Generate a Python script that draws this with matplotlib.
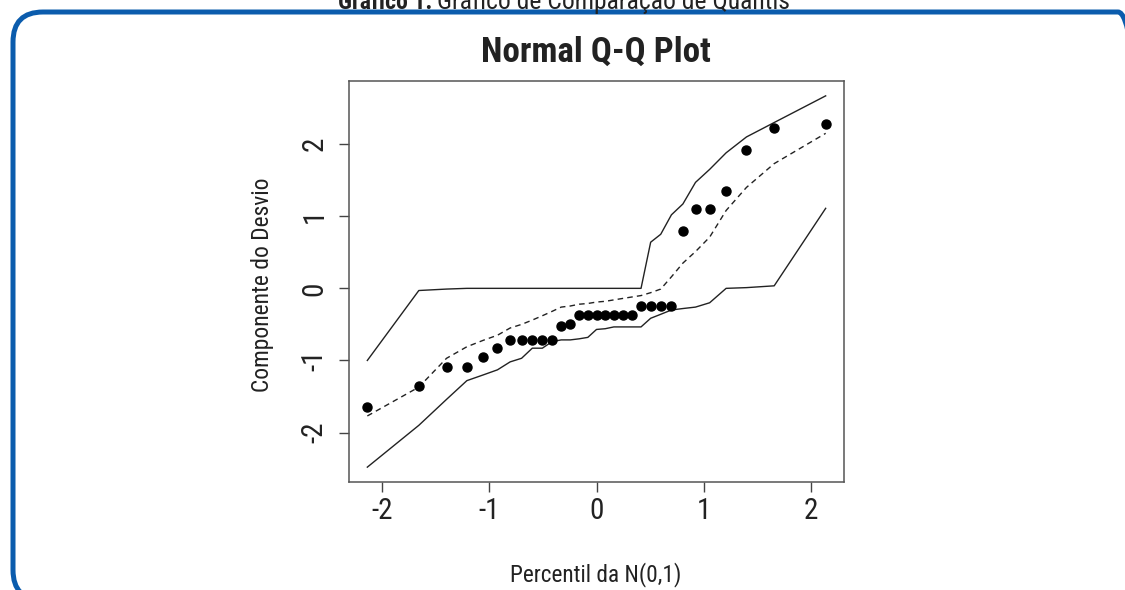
import matplotlib
matplotlib.use("Agg")
import matplotlib.pyplot as plt
from matplotlib import font_manager
from matplotlib.patches import FancyBboxPatch
from matplotlib.transforms import IdentityTransform

# procura uma fonte estreita (o original usa Helvetica Condensed)
entradas = font_manager.fontManager.ttflist
nomes = {f.name for f in entradas}
fonte, largura = None, "normal"
for cand in ["Liberation Sans Narrow", "Roboto Condensed", "Open Sans Condensed",
             "DejaVu Sans Condensed"]:
    if cand in nomes:
        fonte = cand
        break
if fonte is None:
    for f in entradas:
        if f.name in ("Roboto", "Open Sans", "DejaVu Sans", "Noto Sans") and \
                "condensed" in str(f.stretch):
            fonte, largura = f.name, "condensed"
            break
if fonte is None:
    fonte = "Liberation Sans"
plt.rcParams['font.family'] = [fonte, 'DejaVu Sans']
plt.rcParams['font.stretch'] = largura
plt.rcParams['axes.unicode_minus'] = False

# quantis teoricos da N(0,1) - 31 observacoes
teoricos = [-2.141, -1.660, -1.401, -1.211, -1.057, -0.925, -0.807, -0.700,
            -0.600, -0.506, -0.416, -0.330, -0.245, -0.162, -0.081, 0.0,
            0.081, 0.162, 0.245, 0.330, 0.416, 0.506, 0.600, 0.700,
            0.807, 0.925, 1.057, 1.211, 1.401, 1.660, 2.141]

# componente do desvio ordenado
desvio = [-1.64, -1.35, -1.09, -1.09, -0.95, -0.83, -0.715, -0.715, -0.715,
          -0.715, -0.715, -0.52, -0.49, -0.365, -0.365, -0.365, -0.365,
          -0.365, -0.365, -0.365, -0.245, -0.245, -0.245, -0.245,
          0.80, 1.10, 1.10, 1.35, 1.92, 2.23, 2.28]

# envelope simulado
env_sup = [-1.0, -0.03, -0.01, 0, 0, 0, 0, 0, 0, 0, 0, 0, 0, 0, 0, 0, 0, 0,
           0, 0, 0, 0.64, 0.75, 1.02, 1.17, 1.47, 1.65, 1.88, 2.10, 2.30, 2.67]
mediana = [-1.77, -1.37, -0.97, -0.81, -0.72, -0.65, -0.55, -0.50, -0.44,
           -0.38, -0.32, -0.26, -0.245, -0.22, -0.21, -0.19, -0.18, -0.16,
           -0.14, -0.12, -0.10, -0.06, -0.01, 0.16, 0.35, 0.51, 0.71, 1.08,
           1.40, 1.73, 2.15]
env_inf = [-2.48, -1.90, -1.54, -1.28, -1.20, -1.13, -1.02, -0.97, -0.83,
           -0.83, -0.74, -0.715, -0.715, -0.70, -0.68, -0.57, -0.56, -0.535,
           -0.535, -0.535, -0.535, -0.415, -0.36, -0.30, -0.28, -0.26, -0.20,
           0.0, 0.01, 0.035, 1.11]

ticks = [-2, -1, 0, 1, 2]

W, H = 1125, 590
fig = plt.figure(figsize=(W / 100, H / 100), dpi=100)

# moldura azul arredondada
moldura = FancyBboxPatch((13, -10), 1135, 588, boxstyle="round,pad=0,rounding_size=30",
                         transform=IdentityTransform(), fill=False,
                         edgecolor="#0b5cad", linewidth=3.6)
fig.patches.append(moldura)

leg1 = fig.text(432 / W, 1 - 9 / H, "Gráfico 1.", ha="right", va="baseline",
                fontsize=17, fontweight="bold", color="#222222")
leg2 = fig.text(437 / W, 1 - 9 / H, "Gráfico de Comparação de Quantis", ha="left",
                va="baseline", fontsize=17, color="#222222")

ax = fig.add_axes([349 / W, (H - 482) / H, 495 / W, 401 / H])

ax.plot(teoricos, env_sup, color="#222222", lw=1.0)
ax.plot(teoricos, env_inf, color="#222222", lw=1.0)
ax.plot(teoricos, mediana, color="#222222", lw=1.0, linestyle=(0, (4, 3)))
ax.plot(teoricos, desvio, "o", color="black", ms=6.5)

# limites ao estilo do R (4% de folga)
xr = max(teoricos) - min(teoricos)
ax.set_xlim(min(teoricos) - 0.04 * xr, max(teoricos) + 0.04 * xr)
todos = desvio + env_sup + env_inf + mediana
yr = max(todos) - min(todos)
ax.set_ylim(min(todos) - 0.04 * yr, max(todos) + 0.04 * yr)

ax.set_xticks(ticks)
ax.set_xticklabels([str(t) for t in ticks])
ax.set_yticks(ticks)
ax.set_yticklabels([str(t) for t in ticks], rotation=90, va="center")
ax.tick_params(axis="both", length=7.5, width=1.0, color="#444444",
               labelsize=21, labelcolor="#222222")
ax.tick_params(axis="x", pad=3)
ax.tick_params(axis="y", pad=7)
for s in ax.spines.values():
    s.set_color("#555555")
    s.set_linewidth(1.1)

titulo = fig.text(596 / W, 1 - 52 / H, "Normal Q-Q Plot", ha="center", va="center",
                  fontsize=26, fontweight="bold", color="#222222")
xlab = fig.text(596 / W, 1 - 575 / H, "Percentil da N(0,1)", ha="center", va="center",
                fontsize=18, color="#222222")
ylab = fig.text(262 / W, 1 - 285 / H, "Componente do Desvio", ha="center", va="center",
                rotation=90, fontsize=18, color="#222222")

# ajusta os tamanhos para a largura do original (px)
fig.canvas.draw()
r = fig.canvas.get_renderer()
for t, alvo, vertical in [(titulo, 230, False), (xlab, 171, False),
                          (ylab, 215, True), (leg1, 94, False), (leg2, 353, False)]:
    bb = t.get_window_extent(r)
    atual = bb.height if vertical else bb.width
    t.set_fontsize(t.get_fontsize() * alvo / atual)

fig.savefig("out.png", dpi=100)
